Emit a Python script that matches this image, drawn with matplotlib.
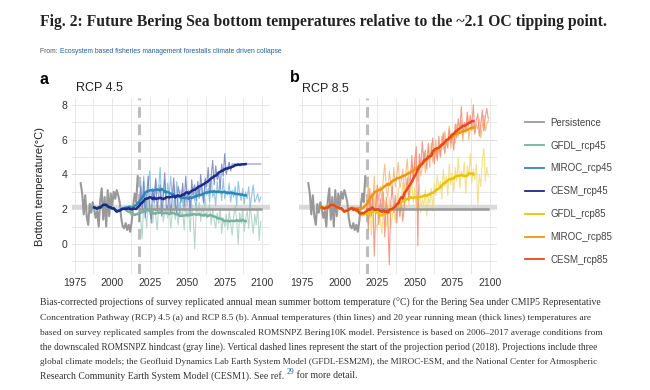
import matplotlib
matplotlib.use("Agg")
import matplotlib.pyplot as plt
import numpy as np
import pandas as pd

# hindcast (ROMSNPZ), 1979-2017
hind_years = list(range(1979, 2018))
hindcast = [3.5, 2.9, 1.7, 2.8, 1.6, 1.1, 2.3, 1.8, 2.4, 2.0,
            1.5, 1.9, 1.0, 2.5, 3.2, 1.4, 2.7, 1.0, 3.1, 1.6,
            2.9, 2.2, 3.0, 2.6, 3.1, 2.8, 2.4, 1.5, 1.0, 0.9,
            1.2, 0.8, 1.1, 0.7, 1.3, 2.2, 2.9, 2.4, 3.9]

# projections, 2018-2099
proj_years = list(range(2018, 2100))

gfdl_45 = [2.2, 1.4, 0.3, 2.5, 1.9, 0.9, 2.6, 1.7, 2.3, 1.2,
           2.4, 1.6, 0.8, 2.2, 1.9, 2.6, 1.3, 1.8, 2.1, 1.5,
           2.3, 0.9, 1.7, 2.5, 1.4, 2.0, 1.1, 2.4, 1.6, 1.9,
           0.8, 2.3, 1.5, 2.0, 0.7, 2.3, 1.6, -0.3, 2.1, 1.8,
           2.4, 1.3, 2.2, 1.7, 2.6, 1.5, 1.9, 2.3, 1.1, 2.0,
           1.4, 0.9, 1.8, 1.2, 2.1, 0.6, 1.5, 1.0, 1.7, 0.8,
           1.9, 1.1, 0.5, 1.6, 2.2, 1.3, 0.0, 1.8, 1.2, 2.0,
           0.7, 1.5, 1.9, 0.9, 2.3, 1.4, 0.6, 1.7, 1.1, 2.1,
           0.2, 1.3]
miroc_45 = [2.3, 3.6, 2.1, 3.9, 2.7, 1.8, 3.4, 4.2, 2.6, 3.1,
            2.4, 3.8, 2.9, 3.3, 4.4, 2.2, 3.0, 3.7, 2.5, 3.5,
            2.8, 3.9, 2.6, 3.4, 2.0, 3.6, 2.3, 1.7, 3.1, 2.4,
            1.9, 2.8, 2.2, 3.0, 1.6, 2.7, 3.3, 2.5, 2.1, 3.4,
            2.6, 3.5, 2.9, 2.3, 3.7, 2.8, 3.2, 2.4, 3.9, 2.7,
            3.1, 2.2, 3.6, 2.9, 3.4, 2.5, 3.8, 2.6, 3.0, 2.8,
            3.5, 2.4, 3.1, 2.7, 3.3, 2.2, 3.6, 2.9, 2.5, 3.2,
            2.3, 3.0, 2.6, 3.3, 2.1, 2.8, 3.4, 2.4, 2.6, 2.9,
            2.4, 2.7]
cesm_45 = [1.3, 3.3, 2.0, 3.6, 1.5, 2.9, 3.9, 2.1, 1.2, 3.2,
           2.4, 3.7, 1.9, 2.8, 3.4, 1.6, 2.5, 4.1, 2.2, 2.0,
           3.0, 1.7, 2.6, 3.8, 2.3, 1.8, 3.3, 2.9, 2.4, 3.5,
           2.2, 3.9, 2.6, 3.1, 1.9, 3.7, 2.8, 3.4, 2.5, 3.6,
           2.7, 4.0, 3.1, 2.4, 3.8, 3.3, 4.4, 2.9, 3.9, 4.8,
           3.4, 4.5, 3.7, 4.1, 3.2, 4.6, 3.9, 5.2, 4.0, 4.4,
           4.7, 4.2, 4.6, 4.6, 4.6, 4.6, 4.6, 4.6, 4.6, 4.6,
           4.6, 4.6, 4.6, 4.6, 4.6, 4.6, 4.6, 4.6, 4.6, 4.6,
           4.6, 4.6]
gfdl_85 = [2.4, 1.1, 2.8, 0.5, 1.9, 2.6, 1.2, 0.8, 2.2, 1.5,
           0.6, 1.8, 2.5, 1.0, 1.4, 2.7, 0.9, 1.6, 2.3, 1.2,
           2.1, 3.2, 1.5, 2.6, 3.5, 1.9, 2.8, 3.6, 2.2, 3.0,
           3.7, 2.4, 3.3, 2.0, 2.9, 3.4, 1.8, 2.6, 2.2, 3.1,
           1.6, 2.7, 2.3, 3.2, 1.9, 3.5, 2.8, 4.0, 3.1, 3.6,
           2.6, 4.3, 3.3, 3.9, 2.8, 4.6, 3.4, 4.1, 3.0, 4.4,
           3.6, 5.0, 3.2, 4.2, 3.8, 4.7, 2.9, 4.5, 3.9, 5.2,
           3.5, 4.3, 3.7, 4.6, 2.2, 4.0, 3.3, 4.8, 5.5, 3.6,
           4.4, 3.9]
miroc_85 = [2.2, 3.4, 1.5, 2.9, 2.4, 3.9, 1.8, 3.1, 2.5, 3.3,
            2.5, 3.8, 4.6, 3.1, 2.7, 4.2, 3.5, 2.9, 4.4, 3.3,
            3.9, 4.7, 3.2, 3.6, 4.3, 2.8, 4.1, 4.9, 3.4, 4.0,
            4.5, 3.7, 5.0, 4.2, 3.6, 4.8, 3.9, 4.4, 5.3, 4.1,
            4.9, 5.5, 4.4, 5.8, 4.7, 5.2, 6.0, 4.9, 5.6, 5.1,
            6.2, 5.4, 6.5, 5.7, 6.0, 6.8, 5.5, 6.3, 6.1, 5.8,
            6.9, 6.2, 6.6, 7.1, 5.9, 6.7, 6.4, 7.3, 6.0, 6.8,
            6.5, 7.0, 6.3, 6.9, 6.6, 7.2, 6.1, 6.8, 7.4, 6.5,
            6.9, 7.1]
cesm_85 = [2.5, 0.8, 3.2, 1.6, 2.9, -0.7, 2.2, 3.4, 1.1, 2.6,
           1.9, 3.0, 0.4, 2.7, 1.5, -1.2, 2.4, 3.3, 1.8, 2.8,
           1.2, 2.5, 1.6, 2.4, 1.3, 2.2, 3.0, 3.8, 2.5, 3.6,
           5.1, 3.6, 4.8, 5.6, -0.1, 5.2, 4.4, 5.9, 4.7, 5.4,
           4.3, 5.8, 4.9, 5.3, 6.1, 4.6, 5.5, 4.8, 6.2, 5.0,
           5.7, 6.4, 5.2, 6.0, 5.5, 6.6, 5.8, 6.3, 5.4, 6.9,
           6.1, 7.2, 6.5, 7.9, 6.3, 7.0, 6.6, 7.6, 6.8, 7.4,
           6.7, 8.0, 6.4, 7.1, 7.5, 6.2, 6.9, 7.7, 6.5, 7.3,
           7.8, 7.2]

persistence = 2.0
tipping_point = 2.15
start_year = 2018

labels_45 = ["GFDL_rcp45", "MIROC_rcp45", "CESM_rcp45"]
labels_85 = ["GFDL_rcp85", "MIROC_rcp85", "CESM_rcp85"]
thick_45 = ["#76b29c", "#2c88b9", "#1b2b82"]
thin_45 = ["#a9d0c2", "#82bcdc", "#7380c4"]
thick_85 = ["#e8c400", "#f09600", "#e8481f"]
thin_85 = ["#f1db74", "#f5b872", "#ef8b74"]

SANS = "Liberation Sans"
SERIF = "Liberation Serif"


def running_mean(proj):
    # 20 year running mean over hindcast + projection
    s = pd.Series(hindcast + proj, index=hind_years + proj_years)
    return s.rolling(20).mean().shift(-10)


def style_axes(ax, dark_line):
    ax.set_xlim(1973, 2105)
    ax.set_ylim(-1.73, 8.4)
    for sp in ax.spines.values():
        sp.set_visible(False)
    ax.set_xticks([1975, 2000, 2025, 2050, 2075, 2100])
    ax.set_xticks(np.arange(1987.5, 2100, 25), minor=True)
    ax.set_yticks([0, 2, 4, 6, 8])
    ax.set_yticks([-1, 1, 3, 5, 7], minor=True)
    ax.grid(True, which="both", color="#e3e3e3", lw=0.6, zorder=0)
    ax.axhline(dark_line, color="#a8a8a8", lw=0.7, zorder=0.5)
    ax.tick_params(which="both", length=0, labelsize=7.5,
                   labelcolor="#333333", pad=3)
    for t in ax.get_xticklabels() + ax.get_yticklabels():
        t.set_family(SANS)
    ax.set_axisbelow(True)
    ax.axhline(tipping_point, color="#d9d9d9", lw=3.2, zorder=1)
    ax.axvline(start_year, color="#bdbdbd", lw=2.2, dashes=(3.5, 2.2),
               zorder=1.5)


def draw_panel(ax, models, labels, thick, thin):
    ax.plot(hind_years, hindcast, color="#999999", lw=1.5, zorder=3)
    ax.plot([proj_years[0], proj_years[-1]], [persistence, persistence],
            color="#999999", lw=1.8, zorder=3, label="Persistence")
    for vals, c in zip(models, thin):
        ax.plot(proj_years, vals, color=c, lw=0.8, alpha=0.85, zorder=2)
    for vals, lab, c in zip(models, labels, thick):
        rm = running_mean(vals)
        ax.plot(rm.index, rm.values, color=c, lw=1.8, zorder=4,
                label=lab)


fig = plt.figure(figsize=(6.5, 3.9), dpi=100)
W, H = 650.0, 390.0

ax_a = fig.add_axes([71.7 / W, (H - 274) / H, 198 / W, 176 / H])
ax_b = fig.add_axes([299.3 / W, (H - 274) / H, 198 / W, 176 / H])

style_axes(ax_a, 4)
style_axes(ax_b, 6)
ax_b.set_yticklabels([])

draw_panel(ax_a, [gfdl_45, miroc_45, cesm_45], labels_45, thick_45, thin_45)
draw_panel(ax_b, [gfdl_85, miroc_85, cesm_85], labels_85, thick_85, thin_85)

ax_a.set_ylabel("Bottom temperature(°C)", fontsize=8, family=SANS,
                color="#222222")
ax_a.yaxis.set_label_coords(-0.135, 0.5)

fig.text(40 / W, 1 - 80 / H, "a", fontsize=11.5, fontweight="bold",
         family=SANS, va="center")
fig.text(76 / W, 1 - 88 / H, "RCP 4.5", fontsize=9, family=SANS,
         va="center", color="#222222")
fig.text(290 / W, 1 - 77 / H, "b", fontsize=11.5, fontweight="bold",
         family=SANS, va="center")
fig.text(302 / W, 1 - 89 / H, "RCP 8.5", fontsize=9, family=SANS,
         va="center", color="#222222")

# legend
h_a, l_a = ax_a.get_legend_handles_labels()
h_b, l_b = ax_b.get_legend_handles_labels()
leg = fig.legend(h_a + h_b[1:], l_a + l_b[1:], loc="upper left",
                 bbox_to_anchor=(516 / W, 1 - 109 / H), frameon=False,
                 prop={"family": SANS, "size": 7}, handlelength=2.0,
                 handletextpad=0.6, labelspacing=1.32)
for t in leg.get_texts():
    t.set_color("#444444")
for ln in leg.get_lines():
    ln.set_linewidth(1.3)

# header
fig.text(40 / W, 1 - 22 / H,
         "Fig. 2: Future Bering Sea bottom temperatures relative to the "
         "~2.1 OC tipping point.",
         fontsize=11.3, fontweight="bold", family=SERIF, va="center",
         color="#222222")
renderer = fig.canvas.get_renderer()


def text_after(prev, s, dy=0.0, **kw):
    bb = prev.get_window_extent(renderer=renderer)
    x = bb.x1 / fig.bbox.width
    y = prev.get_position()[1] + dy
    return fig.text(x, y, s, **kw)


def fit_width(txt, right_px):
    # scale font so the line ends where the justified caption ends
    bb = txt.get_window_extent(renderer=renderer)
    txt.set_fontsize(txt.get_fontsize() * (right_px - 40) / bb.width)


t = fig.text(40 / W, 1 - 53 / H, "From: ", fontsize=4.9, family=SANS,
             color="#555555", va="baseline")
text_after(t, "Ecosystem based fisheries management forestalls climate "
           "driven collapse", fontsize=4.9, family=SANS, color="#1f5f99",
           va="baseline")

caption = [
    "Bias-corrected projections of survey replicated annual mean summer "
    "bottom temperature (°C) for the Bering Sea under CMIP5 Representative",
    "Concentration Pathway (RCP) 4.5 (a) and RCP 8.5 (b). Annual "
    "temperatures (thin lines) and 20 year running mean (thick lines) "
    "temperatures are",
    "based on survey replicated samples from the downscaled ROMSNPZ "
    "Bering10K model. Persistence is based on 2006–2017 average "
    "conditions from",
    "the downscaled ROMSNPZ hindcast (gray line). Vertical dashed lines "
    "represent the start of the projection period (2018). Projections "
    "include three",
    "global climate models; the Geofluid Dynamics Lab Earth System Model "
    "(GFDL-ESM2M), the MIROC-ESM, and the National Center for Atmospheric",
]
caption_ends = [604, 591, 604, 600, 598]
cap_kw = dict(fontsize=7.0, family=SERIF, color="#333333", va="baseline")
for i, (line, end) in enumerate(zip(caption, caption_ends)):
    ct = fig.text(40 / W, 1 - (306 + i * 14.5) / H, line, **cap_kw)
    fit_width(ct, end)
y_last = 1 - (306 + 5 * 14.5) / H
t = fig.text(40 / W, y_last,
             "Research Community Earth System Model (CESM1). See ref. ",
             **cap_kw)
t2 = text_after(t, "29", dy=4 / H, fontsize=5.5, family=SERIF,
                color="#1f5f99", va="baseline")
text_after(t2, " for more detail.", dy=-4 / H, **cap_kw)

fig.savefig("out.png", dpi=100)
